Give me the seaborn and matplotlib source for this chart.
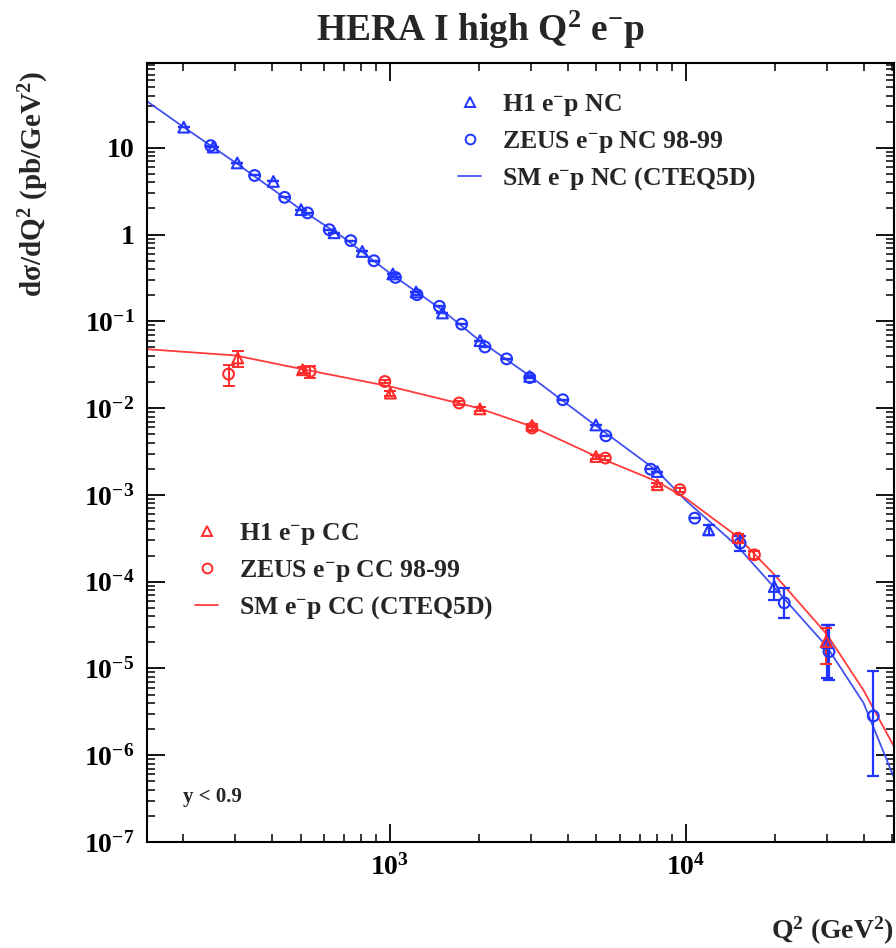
import numpy as np
import pandas as pd
import matplotlib
matplotlib.use("Agg")
import matplotlib.pyplot as plt
from matplotlib.lines import Line2D
from matplotlib.ticker import LogLocator, NullFormatter
import seaborn as sns

# ---------------- data ----------------
h1_nc_q2 = [201, 253, 305, 404, 501, 648, 807, 1024, 1227, 1507, 2018, 2972,
            4977, 8030, 11970, 19950, 30200]
h1_nc_xs = [17.3, 10.2, 6.7, 4.1, 1.94, 1.05, 0.64, 0.352, 0.218, 0.125, 0.060,
            0.0232, 0.0064, 0.00186, 3.96e-4, 8.8e-5, 1.98e-5]
h1_nc_err = [0, 0, 0, 0, 0, 0, 0, 0, 0, 0, 0, 0, 0, 0, 0.5e-4, 2.7e-5, 1.2e-5]

zeus_nc_q2 = [248, 349, 441, 527, 624, 738, 884, 1045, 1236, 1472, 1750, 2098,
              2483, 2972, 3846, 5380, 7623, 10740, 15300, 21580, 30570, 43150]
zeus_nc_xs = [10.6, 4.8, 2.69, 1.78, 1.14, 0.853, 0.50, 0.321, 0.203, 0.149,
              0.093, 0.0507, 0.037, 0.0225, 0.0125, 0.0048, 0.00198, 5.4e-4,
              2.78e-4, 5.7e-5, 1.56e-5, 2.83e-6]
zeus_nc_err_lo = [0, 0, 0, 0, 0, 0, 0, 0, 0, 0, 0, 0, 0, 0, 0, 0, 0, 0,
                  0.5e-4, 1.9e-5, 0.82e-5, 2.26e-6]
zeus_nc_err_hi = [0, 0, 0, 0, 0, 0, 0, 0, 0, 0, 0, 0, 0, 0, 0, 0, 0, 0,
                  0.6e-4, 2.8e-5, 1.6e-5, 6.6e-6]

h1_cc_q2 = [306, 507, 1005, 2018, 3025, 4977, 8030, 29900]
h1_cc_xs = [0.0378, 0.0277, 0.0149, 0.0098, 0.0063, 0.00277, 0.00131, 2.04e-5]
h1_cc_err = [0.008, 0.002, 0.001, 0.0005, 0.0003, 0.00015, 0.00008, 0.9e-5]

zeus_cc_q2 = [285, 538, 962, 1715, 3025, 5358, 9570, 15040, 17100]
zeus_cc_xs = [0.0247, 0.0265, 0.0203, 0.01146, 0.0059, 0.00266, 0.00115,
              3.18e-4, 2.04e-4]
zeus_cc_err = [0.0067, 0.004, 0.001, 0.0005, 0.0003, 0.00012, 0.00006,
               0.4e-4, 0.2e-4]

sm_nc_q2 = [151, 200, 300, 500, 700, 1000, 1500, 2000, 3000, 5000, 8000,
            10000, 15000, 20000, 30000, 40000, 50700]
sm_nc_xs = [34.4, 17.5, 6.8, 1.95, 0.916, 0.36, 0.136, 0.061, 0.023, 0.0062,
            0.0019, 8.7e-4, 2.55e-4, 8.5e-5, 1.8e-5, 4.0e-6, 5.5e-7]

sm_cc_q2 = [151, 300, 500, 1000, 2000, 3000, 5000, 8000, 10000, 15000, 20000,
            30000, 40000, 50700]
sm_cc_xs = [0.0478, 0.0405, 0.0284, 0.0178, 0.0100, 0.0062, 0.00277, 0.00143,
            9.2e-4, 3.3e-4, 1.2e-4, 2.5e-5, 5.6e-6, 1.26e-6]

y_tick_vals = [1e-7, 1e-6, 1e-5, 1e-4, 1e-3, 1e-2, 1e-1, 1, 10]
y_tick_labels = [r"$10^{-7}$", r"$10^{-6}$", r"$10^{-5}$", r"$10^{-4}$",
                 r"$10^{-3}$", r"$10^{-2}$", r"$10^{-1}$", r"$1\ \ $",
                 r"$10\ \ $"]
x_tick_vals = [1e3, 1e4]
x_tick_labels = [r"$10^{3}$", r"$10^{4}$"]

# ---------------- style ----------------
sns.set_theme(style="ticks")
plt.rcParams["font.family"] = ["Liberation Serif", "DejaVu Serif"]
plt.rcParams["font.weight"] = "bold"
plt.rcParams["axes.labelweight"] = "bold"
plt.rcParams["mathtext.fontset"] = "custom"
plt.rcParams["mathtext.rm"] = "Liberation Serif:bold"
plt.rcParams["mathtext.it"] = "Liberation Serif:bold"
plt.rcParams["mathtext.bf"] = "Liberation Serif:bold"
plt.rcParams["mathtext.default"] = "rm"

BLUE = "#2035ff"
RED = "#ff2b2b"
BLUE_L = "#4252f0"
RED_L = "#ff3b3b"

fig = plt.figure(figsize=(8.96, 9.48), dpi=100)
ax = fig.add_axes([147 / 896, 1 - 842 / 948, (894 - 147) / 896, (842 - 63) / 948])

# curves
df_nc = pd.DataFrame({"q2": sm_nc_q2, "xs": sm_nc_xs})
df_cc = pd.DataFrame({"q2": sm_cc_q2, "xs": sm_cc_xs})
sns.lineplot(data=df_nc, x="q2", y="xs", ax=ax, color=BLUE_L, lw=1.3, zorder=2)
sns.lineplot(data=df_cc, x="q2", y="xs", ax=ax, color=RED_L, lw=1.3, zorder=2)

# error bars
ax.errorbar(h1_nc_q2, h1_nc_xs, yerr=h1_nc_err, fmt="none", ecolor=BLUE,
            elinewidth=1.6, capsize=4.5, capthick=1.6, zorder=3)
ax.errorbar(zeus_nc_q2, zeus_nc_xs, yerr=[zeus_nc_err_lo, zeus_nc_err_hi],
            fmt="none", ecolor=BLUE, elinewidth=1.6, capsize=4.5, capthick=1.6,
            zorder=3)
ax.errorbar(h1_cc_q2, h1_cc_xs, yerr=h1_cc_err, fmt="none", ecolor=RED,
            elinewidth=1.4, capsize=4.5, capthick=1.4, zorder=3)
ax.errorbar(zeus_cc_q2, zeus_cc_xs, yerr=zeus_cc_err, fmt="none", ecolor=RED,
            elinewidth=1.4, capsize=4.5, capthick=1.4, zorder=3)

# markers
df_h1nc = pd.DataFrame({"q2": h1_nc_q2, "xs": h1_nc_xs})
df_znc = pd.DataFrame({"q2": zeus_nc_q2, "xs": zeus_nc_xs})
df_h1cc = pd.DataFrame({"q2": h1_cc_q2, "xs": h1_cc_xs})
df_zcc = pd.DataFrame({"q2": zeus_cc_q2, "xs": zeus_cc_xs})
mk = dict(ax=ax, s=60, facecolor="none", linewidth=1.5, zorder=4)
sns.scatterplot(data=df_h1nc, x="q2", y="xs", marker="^", edgecolor=BLUE, **mk)
sns.scatterplot(data=df_znc, x="q2", y="xs", marker="o", edgecolor=BLUE, **mk)
sns.scatterplot(data=df_h1cc, x="q2", y="xs", marker="^", edgecolor=RED, **mk)
sns.scatterplot(data=df_zcc, x="q2", y="xs", marker="o", edgecolor=RED, **mk)

# axes
ax.set_xscale("log")
ax.set_yscale("log")
ax.set_xlim(151, 50700)
ax.set_ylim(1e-7, 95)
ax.set_yticks(y_tick_vals, y_tick_labels)
ax.set_xticks(x_tick_vals, x_tick_labels)
ax.xaxis.set_minor_locator(LogLocator(base=10, subs=np.arange(2, 10)))
ax.yaxis.set_minor_locator(LogLocator(base=10, subs=np.arange(2, 10), numticks=20))
ax.xaxis.set_minor_formatter(NullFormatter())
ax.yaxis.set_minor_formatter(NullFormatter())
ax.tick_params(which="both", direction="in", top=True, right=True, colors="black")
ax.tick_params(which="major", length=13, width=1.3, labelsize=20, pad=9)
ax.tick_params(which="minor", length=6, width=1.1)
for sp in ax.spines.values():
    sp.set_linewidth(1.5)
    sp.set_color("black")

ax.set_xlabel(r"Q$^{2}$ (GeV$^{2}$)", fontsize=20, loc="right", labelpad=24,
              fontweight="bold")
ax.set_ylabel(r"d$\sigma$/dQ$^{2}$ (pb/GeV$^{2}$)", fontsize=21, loc="top",
              labelpad=24, fontweight="bold")
ax.yaxis.label.set_position((0, 0.99))

fig.text(481 / 896, 1 - 30 / 948, r"HERA I high Q$^{2}$ e$^{-}$p", fontsize=27,
         ha="center", va="center", fontweight="bold")
fig.text(183 / 896, 1 - 797 / 948, "y < 0.9", fontsize=15, ha="left",
         va="center", fontweight="bold")

# legends
h_nc = [Line2D([], [], ls="none", marker="^", mfc="none", mec=BLUE, ms=7, mew=1.4),
        Line2D([], [], ls="none", marker="o", mfc="none", mec=BLUE, ms=7, mew=1.4),
        Line2D([], [], color=BLUE_L, lw=1.3)]
l_nc = [r"H1 e$^{-}$p NC", r"ZEUS e$^{-}$p NC 98-99", r"SM e$^{-}$p NC (CTEQ5D)"]
h_cc = [Line2D([], [], ls="none", marker="^", mfc="none", mec=RED, ms=7, mew=1.4),
        Line2D([], [], ls="none", marker="o", mfc="none", mec=RED, ms=7, mew=1.4),
        Line2D([], [], color=RED_L, lw=1.3)]
l_cc = [r"H1 e$^{-}$p CC", r"ZEUS e$^{-}$p CC 98-99", r"SM e$^{-}$p CC (CTEQ5D)"]

leg_kw = dict(loc="upper left", frameon=False, fontsize=18.5, handlelength=0.9,
              handletextpad=0.8, labelspacing=0.42, borderpad=0,
              borderaxespad=0)
leg1 = fig.legend(h_nc, l_nc, bbox_to_anchor=(458 / 896, 1 - 92 / 948), **leg_kw)
leg2 = fig.legend(h_cc, l_cc, bbox_to_anchor=(195 / 896, 1 - 521 / 948), **leg_kw)

fig.savefig("out.png", dpi=100)
